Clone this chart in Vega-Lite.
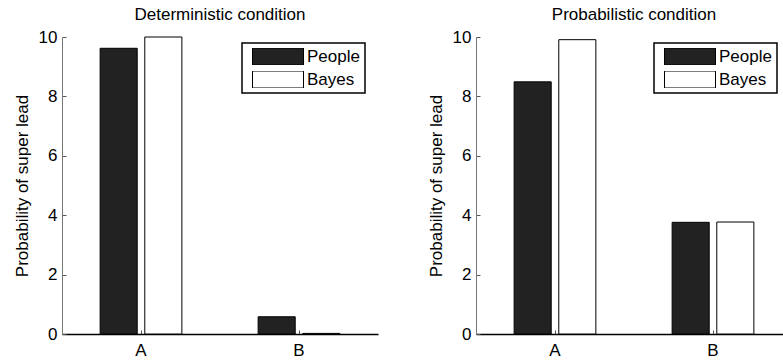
{
  "$schema": "https://vega.github.io/schema/vega-lite/v6.json",
  "padding": {"left": 13, "top": 6, "right": 0, "bottom": 0},
  "background": "white",
  "data": {"values": [
    {"condition": "Deterministic", "option": "A", "model": "People", "value": 9.62},
    {"condition": "Deterministic", "option": "A", "model": "Bayes", "value": 10.0},
    {"condition": "Deterministic", "option": "B", "model": "People", "value": 0.58},
    {"condition": "Deterministic", "option": "B", "model": "Bayes", "value": 0.02},
    {"condition": "Probabilistic", "option": "A", "model": "People", "value": 8.49},
    {"condition": "Probabilistic", "option": "A", "model": "Bayes", "value": 9.91},
    {"condition": "Probabilistic", "option": "B", "model": "People", "value": 3.76},
    {"condition": "Probabilistic", "option": "B", "model": "Bayes", "value": 3.77}
  ]},
  "spacing": 49,
  "hconcat": [
    {
      "title": "Deterministic condition",
      "width": 316,
      "height": 297,
      "transform": [{"filter": "datum.condition === 'Deterministic'"}],
      "mark": {"type": "bar", "stroke": "black", "strokeWidth": 1},
      "encoding": {
        "x": {"field": "option", "type": "nominal", "scale": {"paddingInner": 0, "paddingOuter": 0}, "axis": {"title": null}},
        "xOffset": {"field": "model", "type": "nominal", "sort": ["People", "Bayes"], "scale": {"domain": ["People", "Bayes"], "paddingInner": 0.17, "paddingOuter": 0.854}},
        "y": {"field": "value", "type": "quantitative", "scale": {"domain": [0, 10], "nice": false}, "axis": {"values": [0, 2, 4, 6, 8, 10], "title": "Probability of super lead"}},
        "fill": {"field": "model", "type": "nominal", "sort": ["People", "Bayes"], "scale": {"domain": ["People", "Bayes"], "range": ["#222222", "#ffffff"]}, "legend": {"orient": "none", "legendX": 180, "legendY": 6}}
      }
    },
    {
      "title": "Probabilistic condition",
      "width": 316,
      "height": 297,
      "transform": [{"filter": "datum.condition === 'Probabilistic'"}],
      "mark": {"type": "bar", "stroke": "black", "strokeWidth": 1},
      "encoding": {
        "x": {"field": "option", "type": "nominal", "scale": {"paddingInner": 0, "paddingOuter": 0}, "axis": {"title": null}},
        "xOffset": {"field": "model", "type": "nominal", "sort": ["People", "Bayes"], "scale": {"domain": ["People", "Bayes"], "paddingInner": 0.17, "paddingOuter": 0.854}},
        "y": {"field": "value", "type": "quantitative", "scale": {"domain": [0, 10], "nice": false}, "axis": {"values": [0, 2, 4, 6, 8, 10], "title": "Probability of super lead"}},
        "fill": {"field": "model", "type": "nominal", "sort": ["People", "Bayes"], "scale": {"domain": ["People", "Bayes"], "range": ["#222222", "#ffffff"]}, "legend": {"orient": "none", "legendX": 178, "legendY": 6}}
      }
    }
  ],
  "resolve": {"legend": {"fill": "independent"}, "scale": {"x": "independent", "y": "independent", "xOffset": "independent", "fill": "independent"}},
  "config": {
    "font": "Liberation Sans",
    "view": {"stroke": null},
    "title": {"fontSize": 17, "fontWeight": "normal", "color": "black", "anchor": "middle", "offset": 4},
    "axis": {"grid": false, "labelFontSize": 17, "titleFontSize": 17, "titleFontWeight": "normal", "labelColor": "black", "titleColor": "black", "tickSize": -4, "labelPadding": 9, "tickColor": "#555555", "domainColor": "black"},
    "axisY": {"domainColor": "#777777", "titlePadding": 7},
    "axisX": {"labelAngle": 0, "domainWidth": 1.5, "labelPadding": 12},
    "legend": {"title": null, "symbolType": "M-1,-0.333H1V0.333H-1Z", "symbolSize": 2601, "symbolStrokeColor": "black", "symbolStrokeWidth": 1, "clipHeight": 17, "rowPadding": 5, "padding": 5, "symbolOffset": 5, "labelOffset": 3, "labelFontSize": 17, "labelColor": "black", "strokeColor": "black", "strokeWidth": 1.5, "fillColor": "white", "cornerRadius": 0}
  }
}
